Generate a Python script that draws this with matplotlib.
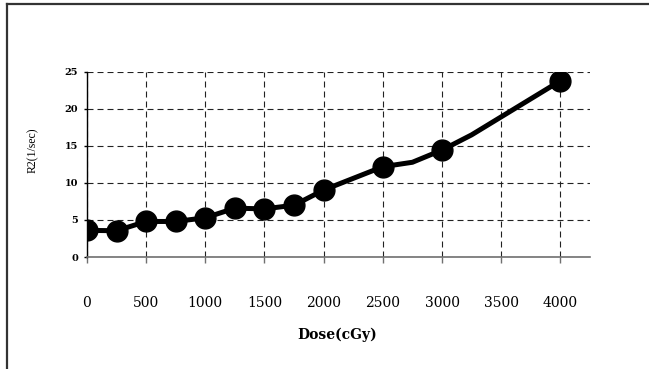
import matplotlib
matplotlib.use('Agg')
import matplotlib.pyplot as plt
from matplotlib.lines import Line2D

# measured points (with markers)
dose = [0, 250, 500, 750, 1000, 1250, 1500, 1750, 2000, 2500, 3000, 4000]
r2 = [3.6, 3.55, 4.8, 4.8, 5.3, 6.6, 6.5, 7.0, 9.05, 12.2, 14.45, 23.8]

# line path (includes the unmarked bends of the curve)
line_dose = [0, 250, 500, 750, 1000, 1250, 1500, 1750, 2000, 2500, 2750, 3000, 3250, 4000]
line_r2 = [3.6, 3.55, 4.8, 4.8, 5.3, 6.6, 6.5, 7.0, 9.05, 12.2, 12.8, 14.45, 16.5, 23.8]

x_ticks = [0, 500, 1000, 1500, 2000, 2500, 3000, 3500, 4000]
y_ticks = [0, 5, 10, 15, 20, 25]

plt.rcParams['font.family'] = ['DejaVu Serif']

fig = plt.figure(figsize=(6.49, 3.69), dpi=100)
ax = fig.add_axes([0.134, 0.3035, 0.775, 0.5015])

ax.plot(line_dose, line_r2, color='black', linewidth=3.6, zorder=3, solid_capstyle='round')
ax.plot(dose, r2, linestyle='none', marker='o', markersize=15, color='black', zorder=4)

ax.set_xlim(0, 4250)
ax.set_ylim(0, 25)
ax.set_xticks(x_ticks)
ax.set_yticks(y_ticks)
ax.set_xticklabels([str(t) for t in x_ticks], fontsize=10)
ax.set_yticklabels([str(t) for t in y_ticks], fontsize=7, fontweight='bold')

ax.grid(True, color='#222222', linewidth=0.8, linestyle=(0, (5.4, 3.6)))
ax.set_axisbelow(True)

ax.spines['top'].set_visible(False)
ax.spines['right'].set_visible(False)
ax.spines['left'].set_color('black')
ax.spines['left'].set_linewidth(1.0)
ax.spines['bottom'].set_color('#707070')
ax.spines['bottom'].set_linewidth(1.2)

ax.tick_params(axis='x', direction='out', length=4.3, width=1.0, color='#707070', pad=24)
ax.tick_params(axis='y', direction='out', length=2.2, width=1.0, color='black', pad=4.3)

ax.set_xlabel('Dose(cGy)', fontsize=10, fontweight='bold')
ax.xaxis.label.set_va('center')
ax.xaxis.set_label_coords(0.497, -0.42)

ax.set_ylabel('R2(1/sec)', fontsize=8.5, family=['Liberation Serif'])
ax.yaxis.label.set_va('center')
ax.yaxis.set_label_coords(-0.107, 0.578)

# outer frame (top and left edges visible)
fig.add_artist(Line2D([7 / 649, 1.0], [1 - 4 / 369, 1 - 4 / 369], transform=fig.transFigure,
                      color='#333333', linewidth=1.6))
fig.add_artist(Line2D([7 / 649, 7 / 649], [0.0, 1 - 4 / 369], transform=fig.transFigure,
                      color='#333333', linewidth=1.6))

fig.savefig('out.png', dpi=100)
plt.close(fig)
